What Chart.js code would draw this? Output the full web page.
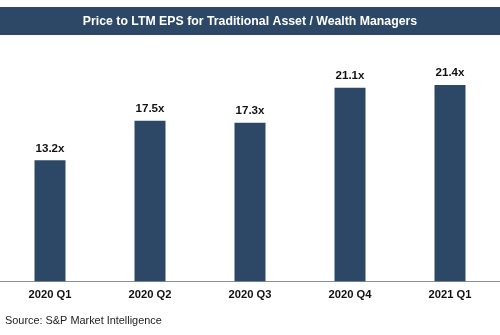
<!DOCTYPE html>
<html>
<head>
<meta charset="utf-8" />
<title>Price to LTM EPS</title>
<script src="https://cdn.jsdelivr.net/npm/chart.js@4.4.0/dist/chart.umd.min.js"></script>
<style>
    html, body { margin: 0; padding: 0; background: #fff; }
    #wrap { width: 500px; height: 335px; }
</style>
</head>
<body>
<div id="wrap"><canvas id="chart" width="500" height="335"></canvas></div>
<script>
    var quarters = ["2020 Q1", "2020 Q2", "2020 Q3", "2020 Q4", "2021 Q1"];
    var peValues = [13.2, 17.5, 17.3, 21.1, 21.4];
    var chartTitle = "Price to LTM EPS for Traditional Asset / Wealth Managers";
    var sourceNote = "Source: S&P Market Intelligence";

    var navy = "#2d4866";

    // banner, value labels and source line
    var decorations = {
        id: "decorations",
        beforeDraw: function(chart) {
            var ctx = chart.ctx;
            ctx.save();
            ctx.fillStyle = navy;
            ctx.fillRect(0, 7, chart.width, 28);
            ctx.fillStyle = "#fff";
            ctx.font = "bold 12.3px Arial, 'Liberation Sans', sans-serif";
            ctx.textAlign = "center";
            ctx.textBaseline = "middle";
            ctx.fillText(chartTitle, chart.width / 2, 22);
            ctx.restore();
        },
        afterDatasetsDraw: function(chart) {
            var ctx = chart.ctx;
            var meta = chart.getDatasetMeta(0);
            ctx.save();
            ctx.fillStyle = "#111";
            ctx.font = "bold 11.6px Arial, 'Liberation Sans', sans-serif";
            ctx.textAlign = "center";
            ctx.textBaseline = "bottom";
            meta.data.forEach(function(bar, i) {
                ctx.fillText(peValues[i].toFixed(1) + "x", bar.x, bar.y - 6);
            });
            ctx.font = "10.9px Arial, 'Liberation Sans', sans-serif";
            ctx.textAlign = "left";
            ctx.textBaseline = "middle";
            ctx.fillStyle = "#222";
            ctx.fillText(sourceNote, 5, 321);
            ctx.restore();
        }
    };

    var config = {
        type: "bar",
        data: {
            labels: quarters,
            datasets: [{
                data: peValues,
                backgroundColor: navy,
                barPercentage: 0.31,
                categoryPercentage: 1.0
            }]
        },
        options: {
            responsive: false,
            animation: false,
            layout: { padding: { top: 52, bottom: 26, left: 0, right: 0 } },
            plugins: {
                legend: { display: false },
                tooltip: { enabled: false }
            },
            scales: {
                y: {
                    display: false,
                    min: 0,
                    max: 25
                },
                x: {
                    grid: { display: false, drawTicks: false },
                    border: { display: true, color: "#8a9099", width: 1 },
                    ticks: {
                        color: "#111",
                        padding: 7,
                        font: { family: "Arial, 'Liberation Sans', sans-serif", size: 11.2, weight: "bold" }
                    }
                }
            }
        },
        plugins: [decorations]
    };

    var ctx = document.getElementById("chart").getContext("2d");
    var chart = new Chart(ctx, config);
</script>
</body>
</html>
